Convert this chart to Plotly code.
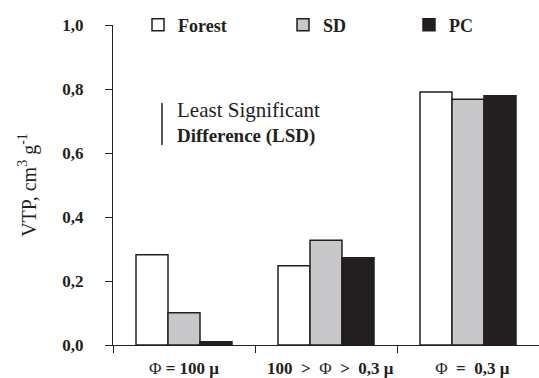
import plotly.graph_objects as go

PHI = "<span style='font-weight:normal'>Φ</span>"
NB = "\u00a0"
categories = [
    PHI + " = 100 μ",
    NB * 2 + "100" + NB * 2 + ">" + NB * 2 + PHI + NB * 2 + ">" + NB * 2 + "0,3 μ",
    NB * 2 + PHI + NB * 2 + "=" + NB * 2 + "0,3 μ",
]
series_names = ["Forest", "SD", "PC"]
forest = [0.282, 0.248, 0.791]
sd = [0.101, 0.327, 0.768]
pc = [0.010, 0.273, 0.779]
y_ticks = [0.0, 0.2, 0.4, 0.6, 0.8, 1.0]
y_ticklabels = ["0,0", "0,2", "0,4", "0,6", "0,8", "1,0"]

ink = "#231f20"
fills = ["#ffffff", "#c8c8ca", ink]
xpos = [0.5, 1.5, 2.5]

fig = go.Figure()
legend_names = ["legend", "legend2", "legend3"]
for name, vals, fc, lg in zip(series_names, [forest, sd, pc], fills, legend_names):
    fig.add_trace(go.Bar(
        x=xpos, y=vals, name=name, legend=lg,
        marker=dict(color=fc, line=dict(color=ink, width=1.5)),
    ))

serif = "Liberation Serif"
legfont = dict(family=serif, size=18, color=ink, weight="bold")
common = dict(orientation="h", bgcolor="rgba(0,0,0,0)", font=legfont,
              xanchor="left", yanchor="middle", yref="container", xref="container",
              borderwidth=0, itemclick=False)
fig.update_layout(
    legend=dict(x=(154 - 16) / 539, y=1 - 25 / 378, **common),
    legend2=dict(x=(299 - 16) / 539, y=1 - 25 / 378, **common),
    legend3=dict(x=(425 - 16) / 539, y=1 - 25 / 378, **common),
)

fig.update_layout(
    width=539, height=378,
    margin=dict(l=113, r=0, t=25, b=33, autoexpand=False),
    paper_bgcolor="white", plot_bgcolor="white",
    barmode="group", bargap=0.324, bargroupgap=0,
    showlegend=True,
    xaxis=dict(
        range=[0, 3], tickvals=xpos, ticktext=categories, ticks="",
        tickfont=dict(family=serif, size=17, color=ink, weight="bold"),
        showline=True, linecolor=ink, linewidth=1.3, showgrid=False, zeroline=False,
        minor=dict(tickmode="linear", tick0=0, dtick=1, ticks="outside", ticklen=7,
                   tickcolor=ink, tickwidth=1.3, showgrid=False),
        ticklabelstandoff=7,
    ),
    yaxis=dict(
        range=[0, 1.0], tickvals=y_ticks, ticktext=y_ticklabels,
        ticks="outside", ticklen=7, tickcolor=ink, tickwidth=1.3,
        tickfont=dict(family=serif, size=17, color=ink, weight="bold"),
        showline=True, linecolor=ink, linewidth=1.3, showgrid=False, zeroline=False,
        ticklabelstandoff=18,
        title=dict(text="VTP, cm<sup>3</sup> g<sup>-1</sup>",
                   font=dict(family=serif, size=20, color=ink), standoff=20),
    ),
)

# LSD indicator
fig.add_shape(type="line", xref="paper", yref="paper",
              x0=(162 - 113) / 426, x1=(162 - 113) / 426,
              y0=(345 - 145) / 320, y1=(345 - 103) / 320,
              line=dict(color=ink, width=1.5))
fig.add_annotation(xref="paper", yref="paper", x=(175 - 113) / 426, y=(345 - 110) / 320,
                   text="Least Significant", showarrow=False, xanchor="left", yanchor="middle",
                   font=dict(family=serif, size=21, color=ink))
fig.add_annotation(xref="paper", yref="paper", x=(175 - 113) / 426, y=(345 - 136) / 320,
                   text="<b>Difference (LSD)</b>", showarrow=False, xanchor="left", yanchor="middle",
                   font=dict(family=serif, size=19, color=ink))

fig.write_html("out.html", config={"displayModeBar": False},
               post_script="document.body.style.margin='0';")
